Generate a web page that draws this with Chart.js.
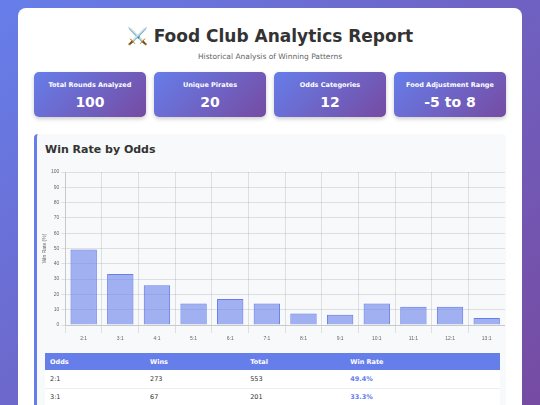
<!DOCTYPE html>
<html><head><meta charset="utf-8">
<script src="https://cdn.jsdelivr.net/npm/chart.js@4"></script>
<style>
*{box-sizing:border-box}
body{margin:0;width:540px;height:405px;overflow:hidden;background:linear-gradient(135deg,#667eea,#764ba2);font-family:"DejaVu Sans",Verdana,sans-serif}
.c{position:absolute;left:18px;top:8px;width:504px;height:420px;background:#fff;border-radius:8px}
h1{margin:0;position:absolute;top:18px;width:100%;text-align:center;font-size:17px;color:#333}
.sub{position:absolute;top:44px;width:100%;text-align:center;font-size:7.5px;color:#666}
.card{position:absolute;top:64px;width:112px;height:45px;border-radius:5px;background:linear-gradient(135deg,#667eea,#764ba2);color:#fff;text-align:center;box-shadow:0 2px 4px rgba(0,0,0,.2)}
.card .l{font-size:6.5px;font-weight:bold;margin-top:9px}
.card .v{font-size:14px;font-weight:bold;margin-top:5px}
.sec{position:absolute;left:16px;top:126px;width:472px;height:300px;background:#f8f9fa;border-left:3px solid #667eea;border-radius:4px}
.sec h2{margin:0;position:absolute;left:8px;top:9px;font-size:11px;color:#333}
.cv{position:absolute;left:4px;top:33px;width:464px;height:178px}
table{position:absolute;left:8px;top:219px;width:455px;border-collapse:collapse;font-size:6.5px;background:#fff}
th{background:#667eea;color:#fff;text-align:left;padding:4px 5px;height:17px}
td{padding:4px 5px;border-bottom:1px solid #eee;height:18px;color:#333}
td.r{color:#667eea;font-weight:bold}
</style></head><body>
<div class="c">
<h1>⚔️ Food Club Analytics Report</h1>
<div class="sub">Historical Analysis of Winning Patterns</div>
<div class="card" style="left:16px"><div class="l">Total Rounds Analyzed</div><div class="v">100</div></div>
<div class="card" style="left:136px"><div class="l">Unique Pirates</div><div class="v">20</div></div>
<div class="card" style="left:256px"><div class="l">Odds Categories</div><div class="v">12</div></div>
<div class="card" style="left:376px"><div class="l">Food Adjustment Range</div><div class="v">-5 to 8</div></div>
<div class="sec"><h2>Win Rate by Odds</h2>
<div class="cv"><canvas id="ch"></canvas></div>
<table><tr><th style="width:22%">Odds</th><th style="width:22%">Wins</th><th style="width:22%">Total</th><th>Win Rate</th></tr>
<tr><td>2:1</td><td>273</td><td>553</td><td class="r">49.4%</td></tr>
<tr><td>3:1</td><td>67</td><td>201</td><td class="r">33.3%</td></tr>
</table></div>
</div>
<script>
const categories=["2:1","3:1","4:1","5:1","6:1","7:1","8:1","9:1","10:1","11:1","12:1","13:1"];
const winRates=[49.4,33.3,26,14,17,14,7.5,6.7,14,12,12,4.5];
new Chart(document.getElementById('ch'),{type:'bar',
data:{labels:categories,datasets:[{label:'Win Rate (%)',data:winRates,backgroundColor:'rgba(102,126,234,0.6)',borderColor:'rgba(102,126,234,1)',borderWidth:1}]},
options:{responsive:true,maintainAspectRatio:false,animation:false,
plugins:{legend:{display:false}},
scales:{y:{min:0,max:100,ticks:{stepSize:10,padding:2,font:{size:5}},grid:{tickLength:4},title:{display:true,text:'Win Rate (%)',padding:1,font:{size:5}}},
x:{ticks:{font:{size:5}}}}}});
</script>
</body></html>
